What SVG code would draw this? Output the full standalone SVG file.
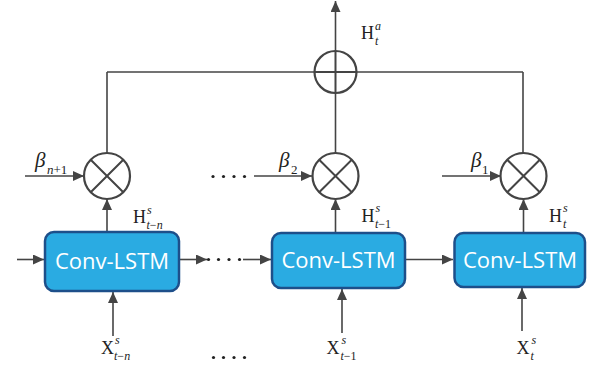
<svg xmlns="http://www.w3.org/2000/svg" width="592" height="366" viewBox="0 0 592 366">
<style>
.ln{stroke:#444;stroke-width:1.6;fill:none}
.arr{stroke:#444;stroke-width:1.6;fill:none;marker-end:url(#ah)}
.op{stroke:#444;stroke-width:2.2;fill:#fff}
.opl{stroke:#444;stroke-width:2;fill:none}
.box{fill:#2aabe2;stroke:#1d4f8a;stroke-width:2.5}
.bt{font-family:"Open Sans","Noto Sans",sans-serif;font-size:22px;fill:#fff;text-anchor:middle}
.m{font-family:"Liberation Serif",serif;font-size:18px;fill:#222}
.s{font-family:"Liberation Serif",serif;font-size:12px;font-style:italic;fill:#222}
.sn{font-family:"Liberation Serif",serif;font-size:12px;font-style:normal;fill:#222}
.bs{font-family:"Liberation Serif",serif;font-size:13px;font-style:italic;fill:#222}
.bsn{font-family:"Liberation Serif",serif;font-size:13px;font-style:normal;fill:#222}
.b{font-family:"Liberation Serif",serif;font-size:21px;font-style:italic;fill:#222}
.dot{fill:#222}
</style>
<defs>
<marker id="ah" markerUnits="userSpaceOnUse" markerWidth="12" markerHeight="10" refX="11" refY="5" orient="auto">
<path d="M0,0 L11,5 L0,10 z" fill="#444"/>
</marker>
</defs>
<g id="connectors">
<line class="ln" x1="107" y1="153" x2="107" y2="72"/>
<line class="ln" x1="107" y1="72" x2="523" y2="72"/>
<line class="ln" x1="523" y1="72" x2="523" y2="153"/>
<line class="ln" x1="335.5" y1="153" x2="335.5" y2="93"/>
<line class="arr" x1="335.5" y1="51" x2="335.5" y2="1"/>
<line class="arr" x1="25" y1="176" x2="84" y2="176"/>
<line class="arr" x1="254" y1="176" x2="312" y2="176"/>
<line class="arr" x1="442" y1="176" x2="501" y2="176"/>
<line class="arr" x1="107" y1="231" x2="107" y2="199"/>
<line class="arr" x1="335.5" y1="232" x2="335.5" y2="199"/>
<line class="arr" x1="523.5" y1="232" x2="523.5" y2="199"/>
<line class="arr" x1="17" y1="259.5" x2="44" y2="259.5"/>
<line class="arr" x1="180" y1="259.5" x2="207" y2="259.5"/>
<line class="arr" x1="243" y1="259.5" x2="271" y2="259.5"/>
<line class="arr" x1="406" y1="259.5" x2="453" y2="259.5"/>
<line class="arr" x1="113" y1="336" x2="113" y2="292"/>
<line class="arr" x1="342" y1="333" x2="342" y2="289"/>
<line class="arr" x1="522" y1="331" x2="522" y2="288"/>
</g>
<g id="dots">
<circle class="dot" cx="208.5" cy="259.5" r="1.6"/>
<circle class="dot" cx="218.5" cy="259.5" r="1.6"/>
<circle class="dot" cx="229" cy="259.5" r="1.6"/>
<circle class="dot" cx="239.5" cy="259.5" r="1.6"/>
<circle class="dot" cx="213" cy="176.5" r="1.6"/>
<circle class="dot" cx="223.5" cy="176.5" r="1.6"/>
<circle class="dot" cx="234" cy="176.5" r="1.6"/>
<circle class="dot" cx="244.5" cy="176.5" r="1.6"/>
<circle class="dot" cx="213.5" cy="357.5" r="1.6"/>
<circle class="dot" cx="223.5" cy="357.5" r="1.6"/>
<circle class="dot" cx="234" cy="357.5" r="1.6"/>
<circle class="dot" cx="244.5" cy="357.5" r="1.6"/>
</g>
<g id="sum">
<circle class="op" cx="335.5" cy="72" r="21"/>
<path class="opl" d="M314.5,72 H356.5 M335.5,51 V93"/>
<text class="m" x="361" y="38.5">H</text>
<text class="s" x="375" y="30">a</text>
<text class="s" x="375" y="45">t</text>
</g>
<g id="mul1">
<circle class="op" cx="107" cy="176" r="23"/>
<path class="opl" d="M90.7,159.7 L123.3,192.3 M123.3,159.7 L90.7,192.3"/>
</g>
<g id="mul2">
<circle class="op" cx="335.5" cy="176" r="23"/>
<path class="opl" d="M319.2,159.7 L351.8,192.3 M351.8,159.7 L319.2,192.3"/>
</g>
<g id="mul3">
<circle class="op" cx="523.5" cy="176" r="23"/>
<path class="opl" d="M507.2,159.7 L539.8,192.3 M539.8,159.7 L507.2,192.3"/>
</g>
<g id="beta1">
<text class="b" x="35" y="167">β</text>
<text class="bs" x="47" y="174">n<tspan class="bsn">+1</tspan></text>
</g>
<g id="beta2">
<text class="b" x="279" y="167">β</text>
<text class="bsn" x="291" y="174">2</text>
</g>
<g id="beta3">
<text class="b" x="471" y="167">β</text>
<text class="bsn" x="482" y="174">1</text>
</g>
<g id="lstm1">
<rect class="box" x="45" y="232" width="134" height="59" rx="9"/>
<text class="bt" x="112" y="268.5">Conv-LSTM</text>
<text class="m" x="133" y="223">H</text>
<text class="s" x="147" y="213.5">s</text>
<text class="s" x="146.5" y="229">t<tspan class="sn">−</tspan>n</text>
</g>
<g id="lstm2">
<rect class="box" x="272" y="233" width="133" height="55" rx="9"/>
<text class="bt" x="338.5" y="268">Conv-LSTM</text>
<text class="m" x="361.5" y="221.5">H</text>
<text class="s" x="375.5" y="212">s</text>
<text class="s" x="375" y="227.5">t<tspan class="sn">−1</tspan></text>
</g>
<g id="lstm3">
<rect class="box" x="454.5" y="233" width="130.5" height="54" rx="9"/>
<text class="bt" x="520" y="267.5">Conv-LSTM</text>
<text class="m" x="549" y="221.5">H</text>
<text class="s" x="563" y="212">s</text>
<text class="s" x="563" y="227.5">t</text>
</g>
<g id="x1">
<text class="m" x="101" y="354">X</text>
<text class="s" x="115" y="344">s</text>
<text class="s" x="114" y="359.5">t<tspan class="sn">−</tspan>n</text>
</g>
<g id="x2">
<text class="m" x="326.5" y="354">X</text>
<text class="s" x="341.5" y="344">s</text>
<text class="s" x="340.5" y="359.5">t<tspan class="sn">−1</tspan></text>
</g>
<g id="x3">
<text class="m" x="516.5" y="354">X</text>
<text class="s" x="531.5" y="344">s</text>
<text class="s" x="530.5" y="359.5">t</text>
</g>
</svg>
